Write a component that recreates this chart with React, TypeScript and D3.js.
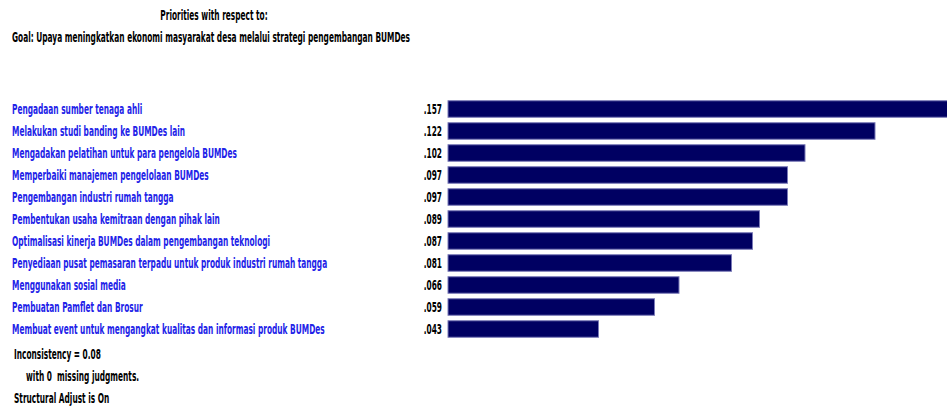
import React from "react";
import * as d3 from "d3";

const categories: string[] = [
  "Pengadaan sumber tenaga ahli",
  "Melakukan studi banding ke BUMDes lain",
  "Mengadakan pelatihan untuk para pengelola BUMDes",
  "Memperbaiki manajemen pengelolaan BUMDes",
  "Pengembangan industri rumah tangga",
  "Pembentukan usaha kemitraan dengan pihak lain",
  "Optimalisasi kinerja BUMDes dalam pengembangan teknologi",
  "Penyediaan pusat pemasaran terpadu untuk produk industri rumah tangga",
  "Menggunakan sosial media",
  "Pembuatan Pamflet dan Brosur",
  "Membuat event untuk mengangkat kualitas dan informasi produk BUMDes",
];
const values: number[] = [0.157, 0.122, 0.102, 0.097, 0.097, 0.089, 0.087, 0.081, 0.066, 0.059, 0.043];
const titleLines: string[] = [
  "Priorities with respect to:",
  "Goal: Upaya meningkatkan ekonomi masyarakat desa melalui strategi pengembangan BUMDes",
];
const footerLines: string[] = [
  "Inconsistency = 0.08",
  "with 0  missing judgments.",
  "Structural Adjust is On",
];

const W = 947;
const H = 407;
const FONT = "'DejaVu Sans Condensed', 'DejaVu Sans', sans-serif";
const FS = 13.5;
const SX = 0.611;

function T({ x, y, anchor = "start", fill = "#000", children }: { x: number; y: number; anchor?: string; fill?: string; children: any }) {
  return (
    <text
      transform={`translate(${x},${y}) scale(${SX},1)`}
      textAnchor={anchor}
      fontSize={FS}
      fontWeight="bold"
      fill={fill}
      style={{ whiteSpace: "pre" }}
    >
      {children}
    </text>
  );
}

export default function App() {
  const x = d3.scaleLinear().domain([0, 0.1]).range([448, 798]);
  const y = d3
    .scaleBand<number>()
    .domain(d3.range(categories.length))
    .range([98, 98 + 22 * categories.length])
    .paddingInner(0.25)
    .paddingOuter(0.125);
  const fmt = (v: number) => d3.format(".3f")(v).replace(/^0/, "");

  return (
    <div style={{ position: "absolute", left: 0, top: 0, width: W, height: H, overflow: "hidden", background: "#fff" }}>
      <svg width={W} height={H} style={{ display: "block" }} fontFamily={FONT}>
        <T x={214} y={20} anchor="middle">{titleLines[0]}</T>
        <T x={12} y={42}>{titleLines[1]}</T>
        {categories.map((c, i) => {
          const yc = (y(i) as number) + y.bandwidth() / 2;
          return (
            <g key={c}>
              <T x={12} y={yc + 5} fill="#2222e8">{c}</T>
              <T x={442} y={yc + 5} anchor="end">{fmt(values[i])}</T>
              <rect
                x={x(0)}
                y={y(i) as number}
                width={x(values[i]) - x(0)}
                height={y.bandwidth()}
                fill="#000062"
                stroke="#7a7ab8"
                strokeWidth={1}
              />
            </g>
          );
        })}
        <T x={14} y={359}>{footerLines[0]}</T>
        <T x={26} y={381}>{footerLines[1]}</T>
        <T x={14} y={403}>{footerLines[2]}</T>
      </svg>
    </div>
  );
}
